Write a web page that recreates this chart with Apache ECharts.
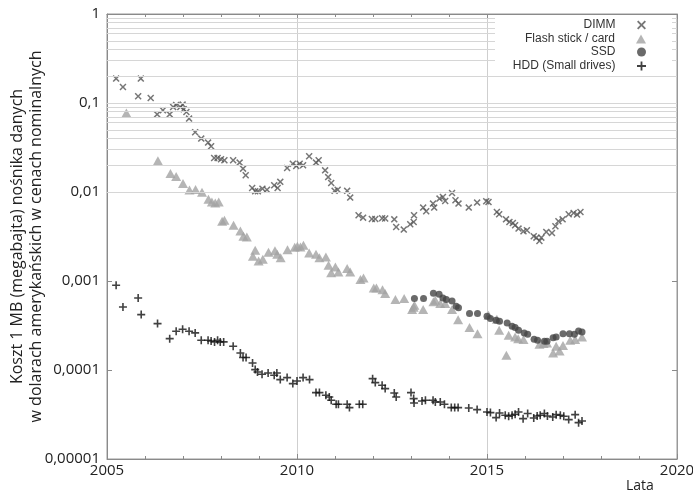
<!DOCTYPE html>
<html><head><meta charset="utf-8">
<script src="https://cdn.jsdelivr.net/npm/echarts@6/dist/echarts.min.js"></script>
<style>html,body{margin:0;padding:0;background:#fff}#c{width:693px;height:494px}</style>
</head><body><div id="c"></div>
<script>
const seriesNames = ['DIMM', 'Flash stick / card', 'SSD', 'HDD (Small drives)'];
const dimm = [[2005.24,0.188],[2005.42,0.151],[2005.82,0.119],[2005.89,0.188],[2006.15,0.114],[2006.32,0.0746],[2006.47,0.0828],[2006.65,0.0746],[2006.74,0.0902],[2006.82,0.095],[2006.93,0.0902],[2006.99,0.096],[2007.02,0.085],[2007.09,0.0792],[2007.16,0.0668],[2007.32,0.0469],[2007.48,0.0398],[2007.66,0.0359],[2007.74,0.0326],[2007.82,0.0241],[2007.91,0.0241],[2008.00,0.0233],[2008.09,0.0227],[2008.32,0.0227],[2008.49,0.0214],[2008.58,0.0183],[2008.65,0.0154],[2008.82,0.0111],[2008.90,0.0102],[2008.97,0.0102],[2009.09,0.0109],[2009.21,0.0106],[2009.40,0.0119],[2009.49,0.0111],[2009.56,0.0130],[2009.74,0.0186],[2009.89,0.0208],[2009.98,0.0196],[2010.07,0.0208],[2010.16,0.0200],[2010.32,0.0252],[2010.50,0.0214],[2010.57,0.0227],[2010.74,0.0175],[2010.82,0.0147],[2010.90,0.0126],[2010.99,0.0103],[2011.07,0.0106],[2011.32,0.0103],[2011.40,0.00865],[2011.62,0.00547],[2011.74,0.00515],[2011.97,0.00498],[2012.06,0.00498],[2012.24,0.00507],[2012.32,0.00503],[2012.56,0.00493],[2012.61,0.00404],[2012.81,0.00378],[2012.98,0.00434],[2013.07,0.0046],[2013.08,0.00547],[2013.32,0.00668],[2013.40,0.00607],[2013.58,0.00741],[2013.61,0.00668],[2013.75,0.00843],[2013.84,0.00879],[2013.90,0.00792],[2014.08,0.00975],[2014.17,0.00807],[2014.25,0.00741],[2014.52,0.00668],[2014.74,0.0076],[2014.98,0.00786],[2015.04,0.00772],[2015.26,0.00596],[2015.32,0.00562],[2015.50,0.00493],[2015.59,0.0046],[2015.68,0.00449],[2015.74,0.00423],[2015.83,0.00388],[2015.96,0.00362],[2016.05,0.00372],[2016.23,0.00318],[2016.30,0.00307],[2016.38,0.00281],[2016.43,0.00307],[2016.56,0.00356],[2016.71,0.00346],[2016.80,0.00412],[2016.88,0.00469],[2016.99,0.00493],[2017.15,0.00562],[2017.28,0.00581],[2017.37,0.00557],[2017.46,0.00596]];
const flash = [[2005.51,0.0772],[2006.34,0.0225],[2006.67,0.0161],[2006.82,0.0149],[2007.00,0.0125],[2007.17,0.0105],[2007.33,0.0107],[2007.50,0.00993],[2007.67,0.00828],[2007.76,0.00772],[2007.85,0.00752],[2007.94,0.00772],[2008.03,0.00469],[2008.09,0.00481],[2008.33,0.00423],[2008.51,0.00365],[2008.59,0.00318],[2008.68,0.00312],[2008.84,0.00190],[2008.90,0.00221],[2008.99,0.00168],[2009.10,0.00175],[2009.25,0.00210],[2009.42,0.00219],[2009.48,0.00200],[2009.57,0.00183],[2009.75,0.00224],[2009.94,0.00239],[2010.01,0.00245],[2010.09,0.00241],[2010.17,0.00252],[2010.32,0.00207],[2010.50,0.00200],[2010.59,0.00183],[2010.76,0.00186],[2010.83,0.00150],[2010.90,0.00124],[2011.01,0.00144],[2011.09,0.00126],[2011.32,0.00138],[2011.40,0.00126],[2011.67,0.00104],[2011.75,0.00108],[2012.02,0.000834],[2012.09,0.000834],[2012.25,0.000800],[2012.32,0.000722],[2012.59,0.000618],[2012.82,0.000634],[2013.03,0.000477],[2013.07,0.000506],[2013.09,0.000533],[2013.32,0.000477],[2013.59,0.000584],[2013.64,0.000607],[2013.77,0.000557],[2013.90,0.000557],[2014.08,0.000477],[2014.24,0.000368],[2014.54,0.000300],[2014.75,0.000256],[2015.04,0.000412],[2015.26,0.000372],[2015.32,0.000279],[2015.51,0.000146],[2015.57,0.000245],[2015.74,0.000235],[2015.82,0.000225],[2015.96,0.000220],[2016.38,0.000195],[2016.49,0.000198],[2016.58,0.000201],[2016.74,0.000155],[2016.82,0.000185],[2016.91,0.000163],[2017.00,0.000189],[2017.19,0.000216],[2017.32,0.000220],[2017.50,0.000235]];
const ssd = [[2013.09,0.000634],[2013.33,0.000634],[2013.59,0.000728],[2013.74,0.000709],[2013.84,0.000644],[2013.93,0.000618],[2014.08,0.000596],[2014.19,0.000520],[2014.25,0.000502],[2014.54,0.000430],[2014.75,0.000430],[2015.00,0.000401],[2015.09,0.000378],[2015.24,0.000362],[2015.33,0.000353],[2015.53,0.000337],[2015.66,0.000310],[2015.74,0.000300],[2015.83,0.000279],[2015.98,0.000261],[2016.07,0.000252],[2016.24,0.000221],[2016.33,0.000216],[2016.51,0.000210],[2016.58,0.000210],[2016.74,0.000231],[2016.82,0.000235],[2017.00,0.000256],[2017.17,0.000256],[2017.30,0.000252],[2017.41,0.000274],[2017.50,0.000267]];
const hdd = [[2005.24,0.000895],[2005.42,0.000510],[2005.82,0.000644],[2005.90,0.000419],[2006.33,0.000332],[2006.65,0.000225],[2006.82,0.000272],[2006.99,0.000287],[2007.16,0.000272],[2007.32,0.000261],[2007.48,0.000216],[2007.66,0.000216],[2007.74,0.000212],[2007.83,0.000207],[2007.91,0.000216],[2007.98,0.000207],[2008.07,0.000207],[2008.32,0.000185],[2008.51,0.000155],[2008.58,0.000138],[2008.66,0.000138],[2008.83,0.000120],[2008.90,0.000101],[2008.96,0.0000950],[2009.08,0.0000895],[2009.24,0.0000925],[2009.40,0.0000872],[2009.47,0.0000925],[2009.56,0.0000780],[2009.74,0.0000821],[2009.89,0.0000703],[2010.00,0.0000752],[2010.16,0.0000821],[2010.33,0.0000780],[2010.50,0.0000557],[2010.59,0.0000557],[2010.76,0.0000520],[2010.85,0.0000498],[2010.90,0.0000457],[2011.03,0.0000412],[2011.09,0.0000412],[2011.32,0.0000412],[2011.38,0.0000378],[2011.64,0.0000412],[2011.73,0.0000412],[2011.99,0.0000800],[2012.06,0.0000722],[2012.24,0.0000673],[2012.32,0.0000618],[2012.56,0.0000552],[2012.61,0.0000498],[2013.00,0.0000557],[2013.07,0.0000477],[2013.08,0.0000426],[2013.29,0.0000449],[2013.38,0.0000457],[2013.58,0.0000457],[2013.64,0.0000437],[2013.77,0.0000437],[2013.88,0.0000412],[2014.06,0.0000378],[2014.15,0.0000378],[2014.24,0.0000378],[2014.52,0.0000374],[2014.74,0.0000359],[2015.00,0.0000337],[2015.09,0.0000332],[2015.24,0.0000292],[2015.33,0.0000329],[2015.48,0.0000310],[2015.57,0.0000302],[2015.66,0.0000310],[2015.74,0.0000318],[2015.83,0.0000337],[2015.95,0.0000284],[2016.07,0.0000324],[2016.23,0.0000289],[2016.32,0.0000304],[2016.40,0.0000310],[2016.51,0.0000324],[2016.59,0.0000304],[2016.73,0.0000296],[2016.82,0.0000315],[2016.93,0.0000310],[2017.02,0.0000302],[2017.15,0.0000277],[2017.32,0.0000315],[2017.41,0.0000256],[2017.50,0.0000267]];
const yMin = 0.00001, yMax = 1;
const xMin = 2005, xMax = 2020, xStep = 5;
const xName = 'Lata';
const yName = 'Koszt 1 MB (megabajta) nośnika danych\nw dolarach amerykańskich w cenach nominalnych';

// minor log grid values: m * 10^k
const gridValues = [];
for (let k = -5; k < 0; k++) for (let m = 1; m <= 9; m++) {
  const v = parseFloat((m * Math.pow(10, k)).toPrecision(3));
  if (v > yMin) gridValues.push(v);
}

const crossPath = 'path://M0,1.5L1.5,0L5,3.5L8.5,0L10,1.5L6.5,5L10,8.5L8.5,10L5,6.5L1.5,10L0,8.5L3.5,5Z';
const plusPath = 'path://M4,0H6V4H10V6H6V10H4V6H0V4H4Z';
const font = 'Open Sans';

const chart = echarts.init(document.getElementById('c'), null, {renderer: 'canvas'});
const legendTops = [19, 33, 46, 60];
const xAxisBase = {
  type: 'value', min: xMin, max: xMax, interval: xStep,
  axisLine: {show: true, lineStyle: {color: '#8a8a8a'}},
  axisTick: {show: true, inside: true, length: 5, lineStyle: {color: '#8a8a8a'}},
  minorTick: {show: true, splitNumber: 5, length: 3, lineStyle: {color: '#8a8a8a'}},
  splitLine: {show: false}
};
chart.setOption({
  animation: false,
  backgroundColor: '#fff',
  title: {text: xName, left: 626, top: 479, padding: 0,
    textStyle: {fontFamily: font, fontSize: 14, fontWeight: 'normal', color: '#222'}},
  grid: {left: 107, right: 16, top: 14, bottom: 35, show: true, borderColor: '#999', borderWidth: 1,
    backgroundColor: 'transparent', containLabel: false, outerBoundsMode: 'none'},
  legend: seriesNames.map((n, i) => ({
    data: [n], right: 47, top: legendTops[i], padding: 0, align: 'right', orient: 'horizontal',
    itemWidth: 10, itemHeight: 9, selectedMode: false, z: 10,
    textStyle: {fontFamily: 'Liberation Sans', fontSize: 12, color: '#333', padding: [0, 16, 0, 0]}
  })),
  graphic: [{type: 'rect', shape: {x: 495, y: 15, width: 177, height: 59}, style: {fill: '#fff'}, z: 8, silent: true}],
  xAxis: [
    Object.assign({}, xAxisBase, {
      position: 'bottom',
      splitLine: {show: true, lineStyle: {color: '#cfcfcf'}},
      axisLabel: {fontFamily: font, fontSize: 15, color: '#222', margin: 4, formatter: v => String(v)}
    }),
    Object.assign({}, xAxisBase, {position: 'top', axisLabel: {show: false}})
  ],
  yAxis: [
    {
      type: 'log', logBase: 10, min: yMin, max: yMax,
      name: yName, nameLocation: 'middle', nameGap: 61, nameMoveOverlap: false,
      nameTextStyle: {fontFamily: font, fontSize: 16, lineHeight: 19, color: '#222'},
      axisLine: {show: true, lineStyle: {color: '#8a8a8a'}},
      axisTick: {show: true, inside: true, length: 5, lineStyle: {color: '#8a8a8a'}},
      splitLine: {show: false},
      axisLabel: {fontFamily: font, fontSize: 15, color: '#222', margin: 7,
        formatter: v => v >= 1 ? '1' : v.toFixed(Math.round(-Math.log10(v))).replace('.', ',')}
    },
    {
      type: 'log', logBase: 10, min: yMin, max: yMax, position: 'right',
      axisLine: {show: true, lineStyle: {color: '#999'}},
      axisTick: {show: true, inside: true, length: 5, lineStyle: {color: '#8a8a8a'}},
      axisLabel: {show: false}, splitLine: {show: false}
    }
  ],
  series: [
    {
      type: 'scatter', name: '__grid', data: [], silent: true, z: 1,
      markLine: {
        silent: true, symbol: ['none', 'none'], animation: false,
        label: {show: false}, emphasis: {disabled: true},
        lineStyle: {color: '#d6d6d6', width: 1, type: 'solid'},
        data: gridValues.map(v => ({yAxis: v}))
      }
    },
    {type: 'scatter', name: seriesNames[0], data: dimm, symbol: crossPath, symbolSize: 7,
      itemStyle: {color: '#555'}, z: 3},
    {type: 'scatter', name: seriesNames[1], data: flash, symbol: 'triangle', symbolSize: [10, 9],
      itemStyle: {color: '#a3a3a3'}, z: 3},
    {type: 'scatter', name: seriesNames[2], data: ssd, symbol: 'circle', symbolSize: 7,
      itemStyle: {color: '#454545'}, z: 4},
    {type: 'scatter', name: seriesNames[3], data: hdd, symbol: plusPath, symbolSize: 8,
      itemStyle: {color: '#111'}, z: 3}
  ]
});
</script></body></html>
